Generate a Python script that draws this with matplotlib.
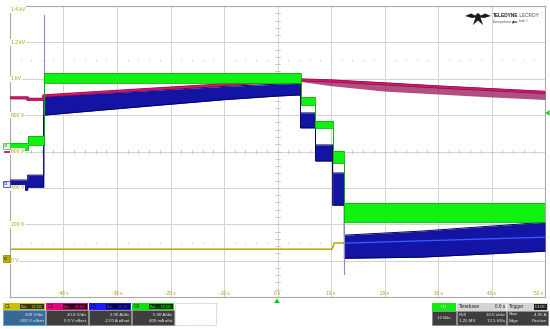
import matplotlib
matplotlib.use('Agg')
import matplotlib.pyplot as plt
from matplotlib.patches import Rectangle, Polygon
import numpy as np

plt.rcParams['font.family'] = ['Liberation Sans', 'DejaVu Sans']

W, H = 550, 329

# ---------------- data (time in s, values in C1 screen volts) ----------------
# C4 (green) current steps: segment boundaries and band low/high
c4_t = [-50, -46.7, -43.7, 4.3, 7.1, 10.3, 12.5, 50]
c4_lo = [608, 636, 977, 856, 729, 537, 212]
c4_hi = [647, 685, 1033, 900, 768, 603, 316]

# C3 (blue) current band envelope
c3_t = [-50, -46.7, -46.7, -43.7, -43.7, -30, -20, -10, 0, 4.3,
        4.3, 7.1, 7.1, 10.3, 10.3, 12.5, 12.5, 26.7, 50]
c3_lo = [388, 388, 404, 404, 800, 835, 860, 885, 905, 911,
         730, 730, 548, 548, 305, 305, 13, 19, 52]
c3_hi = [443, 443, 470, 470, 905, 925, 942, 958, 970, 975,
         812, 812, 636, 636, 482, 482, 140, 162, 211]
c3_mid_t = [12.5, 50]
c3_mid = [96, 129]
c3_spike_t = [-43.7, 12.5]
c3_spike_from = [470, 305]
c3_spike_to = [1352, -75]

# C2 (magenta) voltage
c2_t = [-50, -46.7, -46.7, -43.7, -43.7, -30, -20, -10, 0, 4.3, 10, 20, 30, 40, 50]
c2_v = [895, 895, 887, 887, 906, 931, 949, 967, 986, 994, 988, 972, 955, 940, 925]
c2n_t = [4.3, 10, 20, 30, 40, 50]
c2n_hi = [1000, 998, 982, 965, 950, 935]
c2n_lo = [985, 962, 932, 916, 900, 886]

# C1 (yellow) voltage
c1_t = [-50, 10.2, 10.6, 50]
c1_v = [63, 63, 97, 97]

y_label_vals = [1400, 1200, 1000, 800, 600, 400, 200, 0]
y_label_txt = ['1.4 kV', '1.2 kV', '1 kV', '800 V', '600 V', '400 V', '200 V', '0 V']
x_label_vals = [-40, -30, -20, -10, 0, 10, 20, 30, 40, 50]
x_label_txt = ['-40 s', '-30 s', '-20 s', '-10 s', '0 s', '10 s', '20 s', '30 s', '40 s', '50 s']

# ---------------- figure ----------------
fig = plt.figure(figsize=(5.5, 3.29), dpi=100)
fig.patch.set_facecolor('white')
ax = fig.add_axes([10 / W, 1 - 297 / H, 535 / W, 291 / H])
ax.set_xlim(-50, 50)
ax.set_ylim(-200, 1400)
ax.set_xticks([])
ax.set_yticks([])
for s in ax.spines.values():
    s.set_color('#a8a8a8')
    s.set_linewidth(0.8)

gcol = '#d2d2d2'
for t in range(-40, 50, 10):
    ax.axvline(t, color=gcol, lw=0.7, zorder=0)
for v in range(0, 1400, 200):
    ax.axhline(v, color=gcol, lw=0.7, zorder=0)
# center-cross ticks
for t in np.arange(-50, 50.01, 2):
    ax.plot([t, t], [592, 608], color='#b8b8b8', lw=0.5, zorder=0)
for v in np.arange(-200, 1400.01, 40):
    ax.plot([-0.5, 0.5], [v, v], color='#b8b8b8', lw=0.5, zorder=0)
for yy in (1100, 100):
    for t in np.arange(-48, 50, 2):
        ax.plot([t, t], [yy - 5, yy + 5], color='#c8c8c8', lw=0.5, zorder=0)

# C1 yellow
ax.plot(c1_t, c1_v, color='#b4ae00', lw=1.1, zorder=2)

# C3 blue
ax.fill_between(c3_t, c3_lo, c3_hi, color='#1414a4', lw=0, zorder=3)
ax.plot(c3_t, c3_lo, color='#000066', lw=0.7, zorder=3)
ax.plot(c3_t, c3_hi, color='#000066', lw=0.7, zorder=3)
ax.plot(c3_mid_t, c3_mid, color='#3a5cff', lw=0.9, zorder=3)
for t, a, b in zip(c3_spike_t, c3_spike_from, c3_spike_to):
    ax.plot([t, t], [a, b], color='#8c8cc8', lw=0.8, zorder=3)

# C2 magenta
ax.fill_between(c2n_t, c2n_lo, c2n_hi, color='#9c2460', alpha=0.8, lw=0, zorder=4)
ax.plot(c2_t, c2_v, color='#8a0a40', lw=2.2, zorder=4)
ax.plot(c2_t, c2_v, color='#d41470', lw=1.3, zorder=4)

# C4 green
lo_ext = c4_lo + [c4_lo[-1]]
hi_ext = c4_hi + [c4_hi[-1]]
ax.fill_between(c4_t, lo_ext, hi_ext, step='post', color='#12f212', lw=0, zorder=5)
ax.step(c4_t, lo_ext, where='post', color='#00b400', lw=0.6, zorder=5)
ax.step(c4_t, hi_ext, where='post', color='#00b400', lw=0.6, zorder=5)

# axis labels inside grid
lcol = '#a89e00'
for v, s in zip(y_label_vals, y_label_txt):
    va = 'top' if v == 1400 else 'center'
    yv = 1395 if v == 1400 else v
    ax.text(-49.8, yv, s, fontsize=3.6, color=lcol, va=va, ha='left', zorder=8,
            bbox=dict(boxstyle='square,pad=0.15', fc='white', ec='none'))
for t, s in zip(x_label_vals, x_label_txt):
    ha = 'right' if t == 50 else 'center'
    tt = 49.7 if t == 50 else t
    ax.text(tt, -194, s, fontsize=3.4, color=lcol, va='bottom', ha=ha, zorder=8)

# ---------------- figure-level decorations (pixel helpers) ----------------
def rect(x0, y0, x1, y1, fc, ec='none', lw=0.5, ls='-'):
    fig.add_artist(Rectangle((x0 / W, 1 - y1 / H), (x1 - x0) / W, (y1 - y0) / H,
                             transform=fig.transFigure, fc=fc, ec=ec, lw=lw, ls=ls))

def txt(x, y, s, size=3.3, color='white', ha='left', weight='normal'):
    return fig.text(x / W, 1 - y / H, s, fontsize=size, color=color, ha=ha, va='center',
                    fontweight=weight)

renderer = fig.canvas.get_renderer()

def txt_row(x, y, parts, gap=0.0):
    """parts: list of (string, size, color, weight); placed one after another."""
    for s, size, color, weight in parts:
        t = txt(x, y, s, size=size, color=color, weight=weight)
        bb = t.get_window_extent(renderer)
        x = bb.x1 + gap

# left channel markers
rect(3, 143, 9.5, 149, '#e8ffe8', ec='#20c020', lw=0.5)
txt(6.2, 146, 'C4', size=2.4, color='#108010', ha='center')
rect(4, 151, 9.5, 152.6, '#e0208a')
rect(3, 181, 9.5, 187, '#e8e8ff', ec='#2020c0', lw=0.5)
txt(6.2, 184, 'C3', size=2.4, color='#1010a0', ha='center')
rect(3, 255, 9.5, 262, '#b8b000', ec='#807800', lw=0.5)
txt(6.2, 258.5, 'C1', size=2.4, color='#202000', ha='center')

# trigger markers
fig.add_artist(Polygon([[274 / W, 1 - 303 / H], [280 / W, 1 - 303 / H], [277 / W, 1 - 298.5 / H]],
                       closed=True, transform=fig.transFigure, fc='#10d010', ec='none'))
fig.add_artist(Polygon([[549.5 / W, 1 - 110 / H], [549.5 / W, 1 - 116 / H], [545.5 / W, 1 - 113 / H]],
                       closed=True, transform=fig.transFigure, fc='#10d010', ec='none'))

# logo
bird = [(465, 16), (471, 13.5), (475, 15.5), (478, 13), (481, 15.5), (485, 13.5), (491, 16),
        (484, 18), (480.5, 17.5), (483, 25), (478, 20.5), (473, 25), (475.5, 17.5), (472, 18)]
fig.add_artist(Polygon([[x / W, 1 - y / H] for x, y in bird], closed=True,
                       transform=fig.transFigure, fc='#1a1a1a', ec='none'))
txt_row(493, 15.5, [('TELEDYNE', 3.4, '#222222', 'bold'), (' LECROY', 3.4, '#444444', 'normal')])
txt_row(493, 21.5, [('Everywhere', 2.6, '#555555', 'normal'), ('you', 2.6, '#222222', 'bold'),
                    ('look', 2.6, '#555555', 'normal'), ('\u00ae', 1.8, '#555555', 'normal')])

# channel descriptor boxes
chans = [
    (3, 45, 'C1', '#c8c000', '#363600', '#d8d000', '200 V/div', '-600 V offset', '#3a6895', '#5aa6e6', '#2a2a00'),
    (46, 87.5, 'C2', '#e8007e', '#2a0018', '#ff2a9a', '20.0 V/div', '0.0 V offset', '#3e3e3e', '#8a8a8a', '#300018'),
    (89, 130.5, 'C3', '#1a1aff', '#000048', '#4a4aff', '2.00 A/div', '-2.00 A offset', '#3e3e3e', '#8a8a8a', '#000030'),
    (132, 173.5, 'C4', '#10e010', '#003000', '#30ff30', '5.00 A/div', '400 mA ofst', '#3e3e3e', '#8a8a8a', '#003000'),
]
for x0, x1, name, top, tagbg, tagfg, l1, l2, bfc, bec, namecol in chans:
    rect(x0, 303, x1, 310, top)
    txt(x0 + 2, 306.6, name, size=3.4, color=namecol)
    rect(x0 + 17, 303.6, x0 + 26.5, 309.4, tagbg)
    txt(x0 + 21.7, 306.6, 'BwL', size=2.7, color=tagfg, ha='center')
    rect(x0 + 27, 303.6, x1 - 0.6, 309.4, tagbg)
    txt((x0 + 27 + x1) / 2, 306.6, 'DC1M', size=2.7, color=tagfg, ha='center')
    rect(x0, 310, x1, 325, bfc, ec=bec, lw=0.6)
    txt(x1 - 1.5, 314.5, l1, size=3.2, color='#f0f0f0', ha='right')
    txt(x1 - 1.5, 321, l2, size=3.2, color='#f0f0f0', ha='right')
rect(174.5, 303, 216, 325, 'white', ec='#c8c8c8', lw=0.6, ls=(0, (2, 1)))

# right status boxes
rect(432, 303, 456, 310.5, '#10ee10')
txt(444, 306.7, 'HD', size=3.2, color='#f8fff8', ha='center')
rect(432, 310.5, 456, 325, '#3e3e3e', ec='#8a8a8a', lw=0.6)
txt(444, 317.7, '12 Bits', size=3.2, color='#f0f0f0', ha='center')

rect(457, 303, 506, 310.5, '#d4d4d4')
txt(459, 306.7, 'Timebase', size=3.4, color='#222222')
txt(505, 306.7, '0.0 s', size=3.4, color='#222222', ha='right')
rect(457, 310.5, 506, 325, '#3e3e3e', ec='#8a8a8a', lw=0.6)
txt(459, 314.5, 'Roll', size=3.2, color='#f0f0f0')
txt(505, 314.5, '10.0 s/div', size=3.2, color='#f0f0f0', ha='right')
txt(459, 321, '1.25 MS', size=3.2, color='#f0f0f0')
txt(505, 321, '12.5 kS/s', size=3.2, color='#f0f0f0', ha='right')

rect(507, 303, 548, 310.5, '#d4d4d4')
txt(509, 306.7, 'Trigger', size=3.4, color='#222222')
rect(533.5, 303.8, 547.4, 309.7, '#1e1e1e')
txt(540.5, 306.7, 'C4 DC', size=2.6, color='#f0f0f0', ha='center')
rect(507, 310.5, 548, 325, '#3e3e3e', ec='#8a8a8a', lw=0.6)
txt(509, 314.5, 'Stop', size=3.2, color='#f0f0f0')
txt(547, 314.5, '4.95 A', size=3.2, color='#f0f0f0', ha='right')
txt(509, 321, 'Edge', size=3.2, color='#f0f0f0')
txt(547, 321, 'Positive', size=3.2, color='#f0f0f0', ha='right')

fig.savefig('out.png', dpi=100, facecolor='white')
